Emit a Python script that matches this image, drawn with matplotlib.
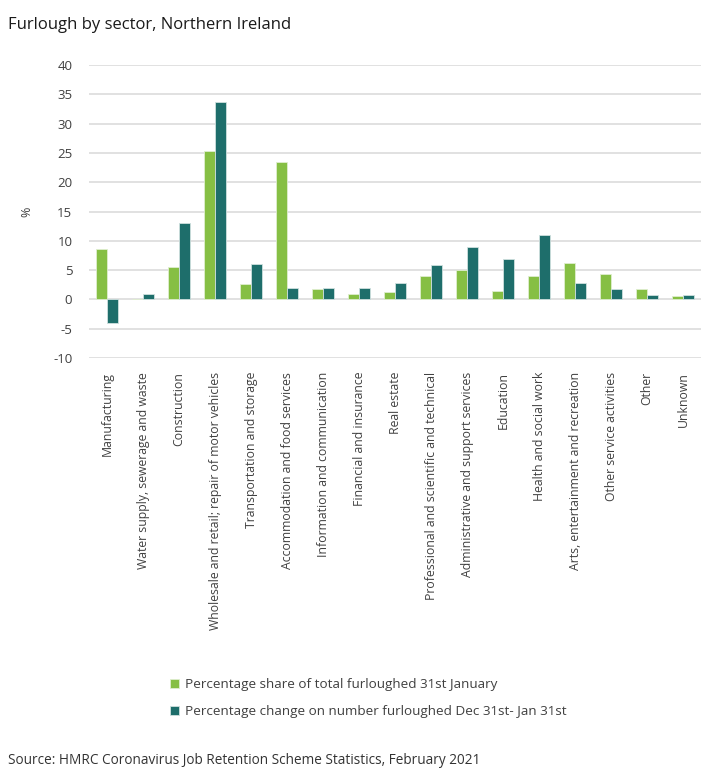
import matplotlib
matplotlib.use("Agg")
import matplotlib.pyplot as plt
import numpy as np

plt.rcParams['font.family'] = ['Open Sans', 'DejaVu Sans']
plt.rcParams['axes.unicode_minus'] = False

sectors = ["Manufacturing", "Water supply, sewerage and waste", "Construction",
           "Wholesale and retail; repair of motor vehicles", "Transportation and storage",
           "Accommodation and food services", "Information and communication",
           "Financial and insurance", "Real estate", "Professional and scientific and technical",
           "Administrative and support services", "Education", "Health and social work",
           "Arts, entertainment and recreation", "Other service activities", "Other", "Unknown"]
share_jan = [8.6, 0.0, 5.6, 25.3, 2.7, 23.5, 1.8, 0.9, 1.2, 4.0, 5.1, 1.4, 4.0, 6.3, 4.4, 1.8, 0.6]
change_dec_jan = [-4.1, 0.9, 13.1, 33.7, 6.0, 1.9, 1.9, 1.9, 2.8, 5.9, 8.9, 6.9, 11.0, 2.8, 1.8, 0.8, 0.8]

green = "#86bf44"
teal = "#1e6e6b"

fig = plt.figure(figsize=(7.01, 7.75), dpi=100)
ax = fig.add_axes([0.127, 0.538, 0.873, 0.378])

x = np.arange(len(sectors))
w = 0.31
ax.bar(x - w/2, share_jan, w, color=green, edgecolor="#dfeecf", linewidth=0.6,
       label="Percentage share of total furloughed 31st January", zorder=3)
ax.bar(x + w/2, change_dec_jan, w, color=teal, edgecolor="#cfe0df", linewidth=0.6,
       label="Percentage change on number furloughed Dec 31st- Jan 31st", zorder=3)

ax.set_ylim(-10, 40)
ax.set_xlim(-0.5, len(sectors) - 0.5)
ax.set_yticks(np.arange(-10, 41, 5))
ax.yaxis.grid(True, color="#dcdcdc", linewidth=1.2, zorder=0)
for s in ax.spines.values():
    s.set_visible(False)
ax.tick_params(axis='both', length=0, colors="#404040", labelsize=9.5)
ax.tick_params(axis='y', pad=12)
ax.set_xticks(x)
ax.set_xticklabels(sectors, rotation=90, fontsize=8.8, color="#404040")
ax.tick_params(axis='x', pad=10)
ax.set_ylabel("%", color="#404040", fontsize=9, labelpad=14)

fig.text(0.012, 0.968, "Furlough by sector, Northern Ireland", fontsize=12, color="#1a1a1a",
         va="center")

handles, labels = ax.get_legend_handles_labels()
fig.legend(handles, labels, loc="center left", bbox_to_anchor=(0.225, 0.099), frameon=False,
           fontsize=9.7, handlelength=0.7, handleheight=0.7, handletextpad=0.4,
           labelspacing=1.05, labelcolor="#404040")

fig.text(0.012, 0.019, "Source: HMRC Coronavirus Job Retention Scheme Statistics, February 2021",
         fontsize=9.8, color="#333333", va="center")

fig.savefig("out.png", dpi=100)
